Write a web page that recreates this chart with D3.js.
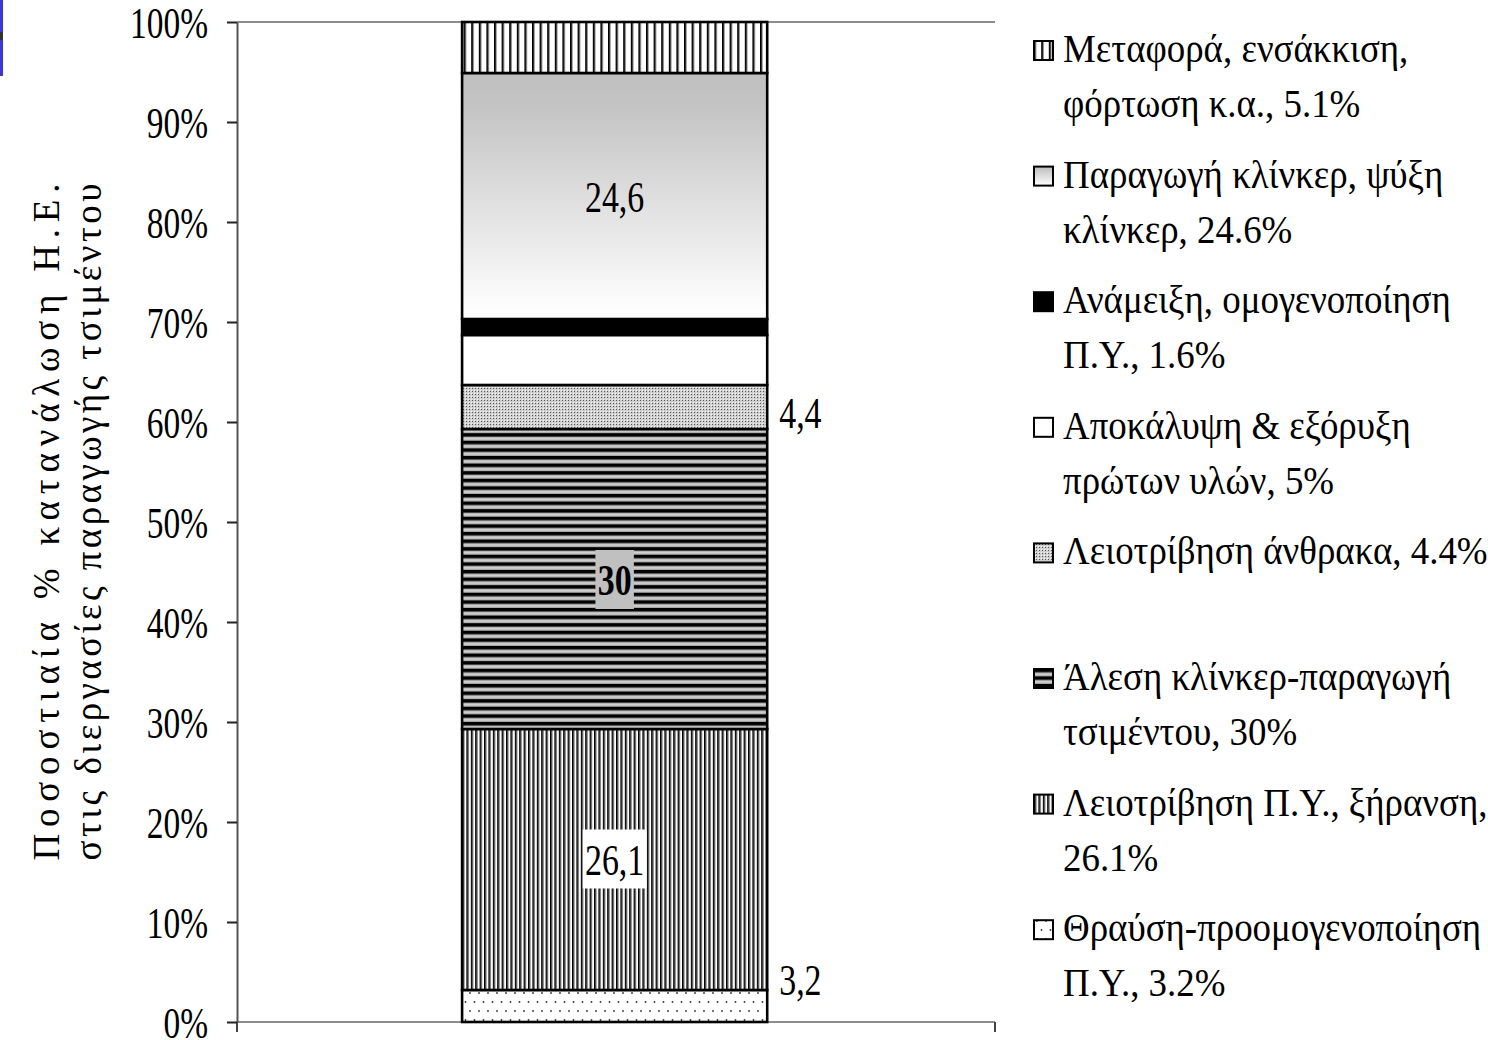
<!DOCTYPE html>
<html>
<head>
<meta charset="utf-8">
<script src="https://cdn.jsdelivr.net/npm/d3@7"></script>
<style>
  body { margin: 0; background: #fff; }
  svg { display: block; }
  text { font-family: "Liberation Serif", "Times New Roman", serif; fill: #000; }
</style>
</head>
<body>
<svg id="chart" width="1488" height="1040"></svg>
<script>
// Share of electricity use per cement production stage (%), bottom to top of the stack
const categories = ["Τσιμέντο"];
const processKeys = ["thrausi", "leiotrivisiPY", "alesi", "anthrakas", "apokalypsi", "anameixi", "klinker", "metafora"];
const processValues = [3.2, 26.1, 30, 4.4, 5, 1.6, 24.6, 5.1];
const legendLines = [
  ["Θραύση-προομογενοποίηση", "Π.Υ., 3.2%"],
  ["Λειοτρίβηση Π.Υ., ξήρανση,", "26.1%"],
  ["Άλεση κλίνκερ-παραγωγή", "τσιμέντου, 30%"],
  ["Λειοτρίβηση άνθρακα, 4.4%"],
  ["Αποκάλυψη & εξόρυξη", "πρώτων υλών, 5%"],
  ["Ανάμειξη, ομογενοποίηση", "Π.Υ., 1.6%"],
  ["Παραγωγή κλίνκερ, ψύξη", "κλίνκερ, 24.6%"],
  ["Μεταφορά, ενσάκκιση,", "φόρτωση κ.α., 5.1%"]
];
const labelledKeys = ["thrausi", "leiotrivisiPY", "alesi", "anthrakas", "klinker"];
const yTicks = [0, 10, 20, 30, 40, 50, 60, 70, 80, 90, 100];
const yTitleLines = ["Ποσοστιαία % κατανάλωση Η.Ε.", "στις διεργασίες παραγωγής τσιμέντου"];

const svg = d3.select("#chart");
const plot = { left: 237, right: 995, top: 22, bottom: 1022 };

// small slide accent at the top-left edge
svg.append("rect").attr("x", 0).attr("y", 0).attr("width", 3).attr("height", 76).attr("fill", "#3b36d6");
svg.append("rect").attr("x", 0).attr("y", 32).attr("width", 3).attr("height", 8).attr("fill", "#333");

// ---------- fill patterns ----------
const defs = svg.append("defs");
function pattern(id, w, h, draw) {
  const p = defs.append("pattern").attr("id", id).attr("patternUnits", "userSpaceOnUse")
    .attr("width", w).attr("height", h);
  draw(p);
}
pattern("p-thrausi", 9, 18, p => {
  p.append("rect").attr("width", 9).attr("height", 18).attr("fill", "#fff");
  p.append("circle").attr("cx", 2).attr("cy", 3).attr("r", 0.9).attr("fill", "#333");
  p.append("circle").attr("cx", 6.5).attr("cy", 12).attr("r", 0.9).attr("fill", "#333");
});
pattern("p-leiotrivisiPY", 4.4, 10, p => {
  p.append("rect").attr("width", 4.4).attr("height", 10).attr("fill", "#fff");
  p.append("rect").attr("x", 0).attr("width", 1.6).attr("height", 10).attr("fill", "#000");
  p.append("rect").attr("x", 1.6).attr("width", 1.1).attr("height", 10).attr("fill", "#8a8a8a");
});
pattern("p-alesi", 10, 7.6, p => {
  p.append("rect").attr("width", 10).attr("height", 7.6).attr("fill", "#000");
  p.append("rect").attr("y", 3.4).attr("width", 10).attr("height", 4.2).attr("fill", "#a4a4a4");
  p.append("rect").attr("y", 4.4).attr("width", 10).attr("height", 2.0).attr("fill", "#d2d2d2");
});
pattern("p-anthrakas", 3, 3, p => {
  p.append("rect").attr("width", 3).attr("height", 3).attr("fill", "#cfcfcf");
  p.append("rect").attr("x", 1).attr("y", 1).attr("width", 1).attr("height", 1).attr("fill", "#555");
  p.append("rect").attr("x", 0).attr("y", 0).attr("width", 1).attr("height", 1).attr("fill", "#fafafa");
});
pattern("p-metafora", 7.6, 10, p => {
  p.append("rect").attr("width", 7.6).attr("height", 10).attr("fill", "#fff");
  p.append("rect").attr("x", 0).attr("width", 1.8).attr("height", 10).attr("fill", "#000");
  p.append("rect").attr("x", 1.8).attr("width", 1).attr("height", 10).attr("fill", "#999");
});
const grad = defs.append("linearGradient").attr("id", "g-klinker")
  .attr("x1", 0).attr("y1", 0).attr("x2", 0).attr("y2", 1);
grad.append("stop").attr("offset", 0).attr("stop-color", "#bfbfbf");
grad.append("stop").attr("offset", 0.12).attr("stop-color", "#c3c3c3");
grad.append("stop").attr("offset", 0.95).attr("stop-color", "#fdfdfd");
grad.append("stop").attr("offset", 1).attr("stop-color", "#ffffff");

const fills = {
  thrausi: "url(#p-thrausi)",
  leiotrivisiPY: "url(#p-leiotrivisiPY)",
  alesi: "url(#p-alesi)",
  anthrakas: "url(#p-anthrakas)",
  apokalypsi: "#ffffff",
  anameixi: "#000000",
  klinker: "url(#g-klinker)",
  metafora: "url(#p-metafora)"
};

// ---------- scales ----------
const y = d3.scaleLinear().domain([0, 100]).range([plot.bottom, plot.top]);
const x = d3.scaleBand().domain(categories).range([plot.left, plot.right])
  .paddingInner(0.426).paddingOuter(0.426).align(0.497);

// top border line of the plot area
svg.append("line").attr("x1", plot.left).attr("x2", plot.right)
  .attr("y1", plot.top).attr("y2", plot.top).attr("stroke", "#8c8c8c").attr("stroke-width", 2);

// category axis
svg.append("line").attr("x1", plot.left).attr("x2", plot.right)
  .attr("y1", plot.bottom).attr("y2", plot.bottom).attr("stroke", "#8c8c8c").attr("stroke-width", 2);
svg.selectAll(".cat-tick").data(x.range()).join("line").attr("class", "cat-tick")
  .attr("x1", d => d).attr("x2", d => d).attr("y1", plot.bottom).attr("y2", plot.bottom + 10)
  .attr("stroke", "#444").attr("stroke-width", 2);

// ---------- stacked bar ----------
const row = { cat: categories[0] };
processKeys.forEach((k, i) => row[k] = processValues[i]);
const series = d3.stack().keys(processKeys)([row]);

const bars = svg.append("g");
bars.selectAll("rect").data(series).join("rect")
  .attr("x", x(categories[0]))
  .attr("width", x.bandwidth())
  .attr("y", d => y(d[0][1]))
  .attr("height", d => y(d[0][0]) - y(d[0][1]))
  .attr("fill", d => fills[d.key])
  .attr("stroke", "#000").attr("stroke-width", 2.6);

// value axis
const yAxis = svg.append("g").attr("transform", `translate(${plot.left},0)`)
  .call(d3.axisLeft(y).tickValues(yTicks).tickFormat(d => d + "%").tickSize(10).tickSizeOuter(0));
yAxis.select(".domain").attr("stroke", "#555").attr("stroke-width", 2);
yAxis.selectAll(".tick line").attr("stroke", "#222").attr("stroke-width", 2);
yAxis.selectAll(".tick text")
  .attr("x", 0).attr("dy", null).attr("y", 15)
  .attr("transform", "translate(-29,0) scale(0.76,1)")
  .attr("text-anchor", "end")
  .style("font-family", '"Liberation Serif", serif')
  .style("font-size", "44px").attr("fill", "#000");

// ---------- value labels ----------
const fmtComma = v => String(v).replace(".", ",");
const bx0 = x(categories[0]), bx1 = bx0 + x.bandwidth(), bxc = (bx0 + bx1) / 2;
const labelG = svg.append("g");
series.filter(s => labelledKeys.includes(s.key)).forEach(s => {
  const v = s[0][1] - s[0][0];
  const cy = (y(s[0][0]) + y(s[0][1])) / 2;
  const txt = fmtComma(+v.toFixed(1));
  let tx, ty, anchor = "middle", bold = false, box = null;
  if (s.key === "thrausi") { tx = bx1 + 12; ty = cy - 11; anchor = "start"; }
  else if (s.key === "anthrakas") { tx = bx1 + 12; ty = cy + 21; anchor = "start"; }
  else if (s.key === "alesi") { tx = bxc; ty = cy + 16; bold = true; box = "#c0c0c0"; }
  else if (s.key === "leiotrivisiPY") { tx = bxc; ty = cy + 15; box = "#ffffff"; }
  else { tx = bxc; ty = cy + 16; }
  const g = labelG.append("g").attr("transform", `translate(${tx},${ty}) scale(0.77,1)`);
  const t = g.append("text").attr("text-anchor", anchor)
    .style("font-size", "44px").style("font-weight", bold ? "bold" : "normal").text(txt);
  if (box) {
    const bb = t.node().getBBox();
    g.insert("rect", "text").attr("x", bb.x - 3).attr("y", -45)
      .attr("width", bb.width + 6).attr("height", 59).attr("fill", box);
  }
});

// ---------- legend ----------
const legend = svg.append("g");
const legendOrder = processKeys.map((k, i) => ({ key: k, lines: legendLines[i] })).reverse();
legendOrder.forEach((d, i) => {
  const base = 62 + i * 125.6;
  legend.append("rect").attr("x", 1034).attr("y", base - 21).attr("width", 19).attr("height", 19)
    .attr("fill", fills[d.key]).attr("stroke", "#000").attr("stroke-width", 2);
  d.lines.forEach((ln, j) => {
    legend.append("text").attr("transform", `translate(1063,${base + j * 55}) scale(0.9,1)`)
      .style("font-size", "41px").text(ln);
  });
});

// ---------- value axis title ----------
const titleG = svg.append("g").attr("transform", `translate(0,${(plot.top + plot.bottom) / 2}) rotate(-90)`);
const titleX = [59, 101];
yTitleLines.forEach((ln, i) => {
  titleG.append("text").attr("x", 0).attr("y", titleX[i]).attr("text-anchor", "middle")
    .attr("textLength", 677).attr("lengthAdjust", "spacing")
    .style("font-size", "37px").text(ln);
});
</script>
</body>
</html>
